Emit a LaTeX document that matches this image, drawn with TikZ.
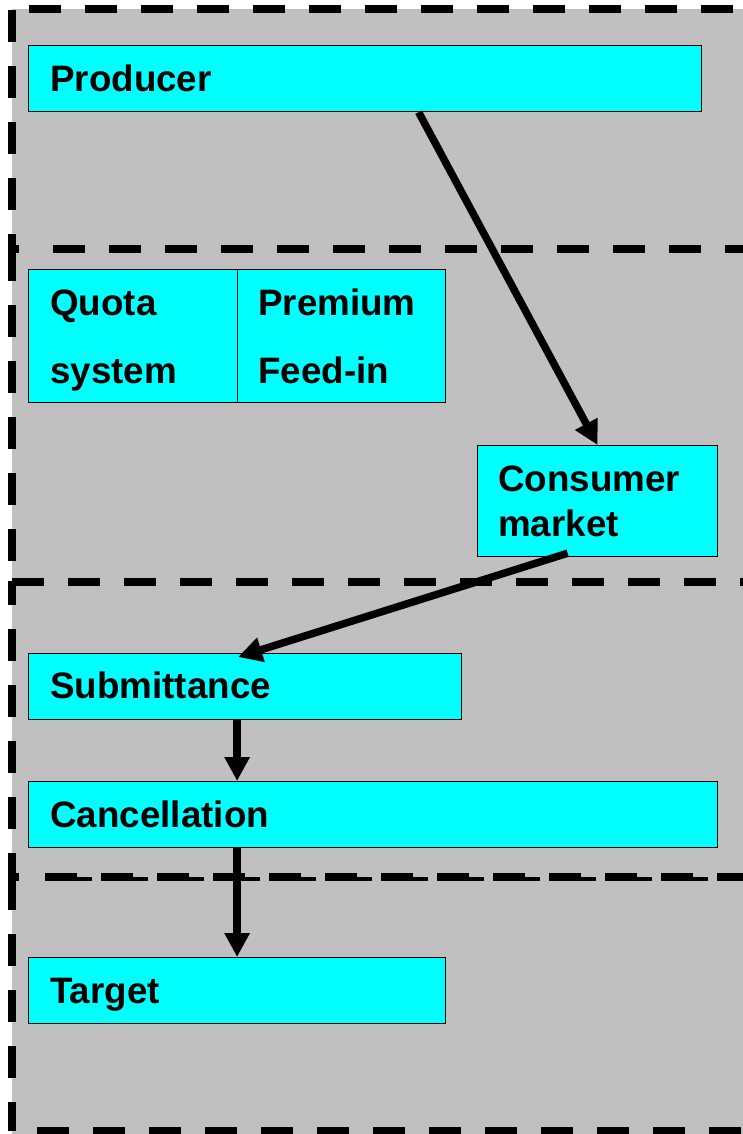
\documentclass[tikz,border=0pt]{standalone}
\usepackage{fontspec}
\setmainfont{Liberation Sans}
\usetikzlibrary{arrows.meta}
\definecolor{cyanbox}{HTML}{00FFFF}
\definecolor{graybg}{HTML}{C0C0C0}
\begin{document}
\begin{tikzpicture}[x=1pt,y=-1pt,
  box/.style={draw=black,line width=1.2pt,fill=cyanbox,inner sep=0pt,anchor=north west},
  lbl/.style={font=\bfseries\fontsize{36.8pt}{44pt}\selectfont,inner sep=0pt,anchor=base west},
  frame/.style={line width=8pt,dash pattern=on 32pt off 24pt},
  thinframe/.style={line width=4pt,dash pattern=on 32pt off 24pt},
  tick/.style={line width=8pt},
  arr/.style={line width=7.5pt,-{Triangle[length=24pt,width=24pt]}}]
\useasboundingbox (0,0) rectangle (743,1134);
\fill[graybg] (12,9) rectangle (743,1134);
% section frames
\draw[frame,dash phase=39pt] (12,9) -- (743,9);
\draw[frame] (12,10) -- (12,249);
\draw[tick] (12,249) -- (19,249);
\draw[frame] (53,249) -- (743,249);
\draw[frame] (12,249) -- (12,581);
\draw[frame] (12,582) -- (743,582);
\draw[frame,dash phase=8pt] (12,581) -- (12,880);
\draw[thinframe] (60,879) -- (743,879);
\draw[tick] (12,877) -- (19,877);
\draw[frame] (45,877) -- (743,877);
\draw[frame] (12,878) -- (12,1131);
\draw[frame] (37,1131) -- (743,1131);
% boxes
\node[box,minimum width=673pt,minimum height=66pt] (prod) at (28,45) {};
\node[box,minimum width=209pt,minimum height=133pt] (quota) at (28,269) {};
\node[box,minimum width=208pt,minimum height=133pt] (prem) at (237,269) {};
\node[box,minimum width=240pt,minimum height=111pt] (cons) at (477,445) {};
\node[box,minimum width=433pt,minimum height=66pt] (sub) at (28,653) {};
\node[box,minimum width=689pt,minimum height=66pt] (canc) at (28,781) {};
\node[box,minimum width=417pt,minimum height=66pt] (targ) at (28,957) {};
% labels
\node[lbl] (tprod) at (50,92) {Producer};
\node[lbl] (tquota1) at (50,315) {Quota};
\node[lbl] (tquota2) at (50,383) {system};
\node[lbl] (tprem1) at (258,315) {Premium};
\node[lbl] (tprem2) at (258,383) {Feed-in};
\node[lbl] (tcons1) at (498,491) {Consumer};
\node[lbl] (tcons2) at (498,536) {market};
\node[lbl] (tsub) at (50,698) {Submittance};
\node[lbl] (tcanc) at (50,827) {Cancellation};
\node[lbl] (ttarg) at (50,1003) {Target};
% connectors
\draw[arr] ([xshift=53.5pt]prod.south) -- (cons.north);
\draw[arr] ([xshift=-30pt,yshift=4pt]cons.south) -- ([xshift=-7pt,yshift=-4pt]sub.north);
\coordinate (a) at ([xshift=-8pt]sub.south);
\draw[arr] (a) -- (a |- canc.north);
\coordinate (b) at (a |- canc.south);
\draw[arr] (b) -- (b |- targ.north);
\end{tikzpicture}
\end{document}
